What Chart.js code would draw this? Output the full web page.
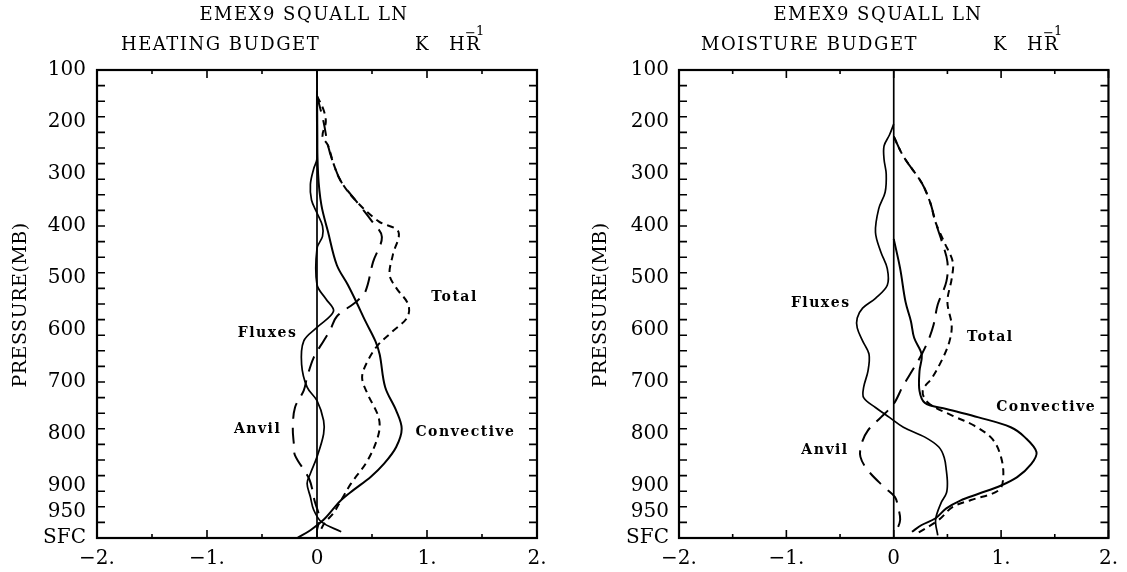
<!DOCTYPE html>
<html>
<head>
<meta charset="utf-8">
<title>EMEX9 squall line budgets</title>
<script src="https://cdn.jsdelivr.net/npm/chart.js"></script>
<style>
  html, body { margin: 0; padding: 0; background: #fff; }
  #wrap { position: relative; width: 1127px; height: 572px; }
  canvas { position: absolute; top: 0; }
  #heatChart { left: 0; }
  #moistChart { left: 563px; }
</style>
</head>
<body>
<div id="wrap">
  <canvas id="heatChart" width="563" height="572"></canvas>
  <canvas id="moistChart" width="564" height="572"></canvas>
</div>
<script>
// axis ticks shared by both panels (pressure in mb, rate in K/hr)
const pressureTicks = [100, 200, 300, 400, 500, 600, 700, 800, 900, 950, 1000];
const pressureLabels = ['100', '200', '300', '400', '500', '600', '700', '800', '900', '950', 'SFC'];
const rateTicks = [-2, -1, 0, 1, 2];
const rateLabels = ['\u22122.', '\u22121.', '0', '1.', '2.'];

// zero reference line
const zeroP = [100, 1000];
const zeroK = [0, 0];

// heating budget
const heatConvP = [140, 200, 300, 360, 411, 475, 513, 547, 583, 621, 647, 710, 755, 790, 825, 857, 882, 908, 927, 946, 965, 985, 1000];
const heatConvK = [0, 0, 0.01, 0.04, 0.10, 0.18, 0.28, 0.36, 0.44, 0.53, 0.57, 0.62, 0.72, 0.77, 0.72, 0.61, 0.49, 0.33, 0.22, 0.14, 0.06, -0.06, -0.18];
const heatFluxP = [100, 270, 290, 320, 350, 375, 400, 420, 443, 513, 540, 564, 595, 621, 666, 710, 736, 774, 800, 844, 876, 895, 921, 946, 969, 988];
const heatFluxK = [0, 0, -0.03, -0.06, -0.05, 0, 0.05, 0.05, 0, 0, 0.08, 0.15, 0, -0.12, -0.14, -0.09, 0, 0.06, 0.06, 0, -0.06, -0.09, -0.06, -0.03, 0.04, 0.22];
const heatTotalP = [150, 177, 200, 227, 245, 280, 315, 353, 391, 411, 455, 494, 519, 551, 576, 602, 630, 660, 691, 723, 768, 800, 851, 895, 927, 952, 971, 990];
const heatTotalK = [0, 0.06, 0.08, 0.05, 0.10, 0.15, 0.22, 0.36, 0.56, 0.74, 0.69, 0.66, 0.72, 0.83, 0.82, 0.69, 0.55, 0.46, 0.41, 0.46, 0.56, 0.56, 0.46, 0.31, 0.22, 0.15, 0.07, 0.02];
const heatAnvilP = [150, 200, 245, 280, 315, 353, 391, 421, 469, 526, 545, 574, 600, 621, 653, 691, 716, 749, 790, 820, 841, 887, 930, 960, 985];
const heatAnvilK = [0, 0.06, 0.10, 0.15, 0.22, 0.36, 0.50, 0.59, 0.51, 0.44, 0.36, 0.18, 0.12, 0.06, -0.03, -0.09, -0.12, -0.20, -0.22, -0.21, -0.20, -0.07, -0.02, 0.02, 0.0];

// moisture budget
const moistConvP = [425, 482, 546, 583, 615, 647, 679, 717, 740, 752, 768, 787, 806, 835, 858, 883, 899, 915, 928, 943, 962, 975, 988];
const moistConvK = [0, 0.06, 0.11, 0.16, 0.19, 0.26, 0.24, 0.24, 0.29, 0.49, 0.79, 1.09, 1.22, 1.33, 1.28, 1.15, 1.00, 0.79, 0.62, 0.49, 0.39, 0.26, 0.17];
const moistFluxP = [204, 225, 246, 272, 300, 335, 367, 412, 450, 482, 514, 539, 558, 577, 596, 621, 647, 679, 710, 730, 749, 768, 787, 806, 825, 845, 870, 895, 914, 933, 965, 995];
const moistFluxK = [0, -0.04, -0.09, -0.09, -0.07, -0.08, -0.14, -0.17, -0.12, -0.06, -0.06, -0.17, -0.29, -0.34, -0.34, -0.29, -0.23, -0.24, -0.28, -0.28, -0.17, -0.04, 0.09, 0.29, 0.42, 0.47, 0.49, 0.50, 0.49, 0.44, 0.39, 0.41];
const moistTotalP = [228, 266, 317, 355, 393, 431, 469, 501, 546, 591, 621, 653, 691, 717, 740, 765, 784, 810, 845, 883, 908, 927, 940, 965, 991];
const moistTotalK = [0, 0.09, 0.26, 0.34, 0.39, 0.47, 0.55, 0.54, 0.50, 0.54, 0.52, 0.46, 0.36, 0.27, 0.32, 0.55, 0.75, 0.92, 1.00, 1.02, 0.98, 0.72, 0.55, 0.42, 0.22];
const moistAnvilP = [228, 266, 317, 355, 393, 431, 469, 507, 551, 591, 621, 647, 679, 710, 742, 768, 793, 819, 844, 870, 902, 921, 940, 965, 984, 994];
const moistAnvilK = [0, 0.09, 0.26, 0.34, 0.39, 0.45, 0.50, 0.49, 0.41, 0.37, 0.32, 0.26, 0.17, 0.08, 0, -0.12, -0.24, -0.30, -0.31, -0.24, -0.09, 0.01, 0.04, 0.06, 0.03, 0];

const SERIF = 'DejaVu Serif';

function curve(p, k, dash, width, tension) {
  return {
    data: p.map((y, i) => ({ x: k[i], y: y })),
    showLine: true,
    borderColor: '#000',
    borderWidth: width,
    borderDash: dash,
    pointRadius: 0,
    tension: tension,
    fill: false
  };
}

// frame, inward ticks, headings and curve names
function decorations(cfg) {
  return {
    id: 'decorations',
    afterDraw(chart) {
      const ctx = chart.ctx;
      const a = chart.chartArea;
      const x = chart.scales.x;
      const y = chart.scales.y;
      ctx.save();
      ctx.strokeStyle = '#000';
      ctx.lineWidth = 2.2;
      ctx.strokeRect(a.left, a.top, a.right - a.left, a.bottom - a.top);

      ctx.lineWidth = 1.6;
      ctx.beginPath();
      for (let v = -2; v <= 2; v += 0.5) {
        const px = x.getPixelForValue(v);
        const len = Number.isInteger(v) ? 8 : 4;
        ctx.moveTo(px, a.bottom); ctx.lineTo(px, a.bottom - len);
        ctx.moveTo(px, a.top); ctx.lineTo(px, a.top + len);
      }
      for (let p = 130; p < 1000; p += 30) {
        const py = y.getPixelForValue(p);
        ctx.moveTo(a.left, py); ctx.lineTo(a.left + 8, py);
        ctx.moveTo(a.right, py); ctx.lineTo(a.right - 8, py);
      }
      ctx.stroke();

      ctx.fillStyle = '#000';
      ctx.textBaseline = 'middle';
      ctx.font = '18px "' + SERIF + '"';
      ctx.letterSpacing = '1.5px';
      ctx.textAlign = 'center';
      ctx.fillText('EMEX9 SQUALL LN', cfg.titleX, 15);
      ctx.textAlign = 'left';
      ctx.fillText(cfg.subtitle, cfg.subX, 45);
      ctx.fillText('K', cfg.unitX, 45);
      ctx.fillText('HR', cfg.unitX + 34, 45);
      ctx.font = '13px "' + SERIF + '"';
      ctx.letterSpacing = '0px';
      ctx.fillText('\u2212', cfg.unitX + 50, 34);
      ctx.fillText('1', cfg.unitX + 61, 32);

      ctx.save();
      ctx.translate(cfg.axisTitleX, 305);
      ctx.rotate(-Math.PI / 2);
      ctx.textAlign = 'center';
      ctx.font = '19px "' + SERIF + '"';
      ctx.letterSpacing = '0.5px';
      ctx.fillText('PRESSURE(MB)', 0, 0);
      ctx.restore();

      ctx.font = 'bold 14px "' + SERIF + '"';
      ctx.letterSpacing = '1.5px';
      ctx.textAlign = 'center';
      cfg.names.forEach(n => {
        ctx.fillText(n.text, x.getPixelForValue(n.k), y.getPixelForValue(n.p));
      });
      ctx.restore();
    }
  };
}

function budgetChart(id, cfg) {
  new Chart(document.getElementById(id), {
    type: 'scatter',
    data: {
      datasets: [
        curve(zeroP, zeroK, [], 1.7, 0),
        curve(cfg.conv[0], cfg.conv[1], [], 2, 0.35),
        curve(cfg.flux[0], cfg.flux[1], [], 1.7, 0.35),
        curve(cfg.total[0], cfg.total[1], [7, 5], 2, 0.35),
        curve(cfg.anvil[0], cfg.anvil[1], [16, 9], 2, 0.35)
      ]
    },
    options: {
      responsive: false,
      animation: false,
      layout: { padding: { top: 70, right: cfg.padRight, left: 0, bottom: 0 } },
      plugins: { legend: { display: false }, tooltip: { enabled: false } },
      scales: {
        x: {
          type: 'linear', min: -2, max: 2,
          afterBuildTicks: s => { s.ticks = rateTicks.map(v => ({ value: v })); },
          afterFit: s => { s.height = 34; },
          grid: { display: false, drawTicks: false },
          border: { display: false },
          ticks: {
            color: '#000', padding: 9, maxRotation: 0, autoSkip: false,
            font: { family: SERIF, size: 20 },
            callback: (v, i) => rateLabels[i]
          }
        },
        y: {
          type: 'linear', min: 100, max: 1000, reverse: true,
          afterBuildTicks: s => { s.ticks = pressureTicks.map(v => ({ value: v })); },
          afterFit: s => { s.width = cfg.axisWidth; },
          grid: { display: false, drawTicks: false },
          border: { display: false },
          ticks: {
            color: '#000', padding: cfg.labelPad, autoSkip: false,
            font: { family: SERIF, size: 20 },
            callback: (v, i) => pressureLabels[i]
          }
        }
      }
    },
    plugins: [decorations(cfg)]
  });
}

budgetChart('heatChart', {
  conv: [heatConvP, heatConvK],
  flux: [heatFluxP, heatFluxK],
  total: [heatTotalP, heatTotalK],
  anvil: [heatAnvilP, heatAnvilK],
  axisWidth: 97, labelPad: 11, padRight: 26,
  titleX: 304, subtitle: 'HEATING BUDGET', subX: 121, unitX: 415, axisTitleX: 21,
  names: [
    { text: 'Total', k: 1.25, p: 537 },
    { text: 'Fluxes', k: -0.45, p: 606 },
    { text: 'Anvil', k: -0.54, p: 792 },
    { text: 'Convective', k: 1.35, p: 796 }
  ]
});

budgetChart('moistChart', {
  conv: [moistConvP, moistConvK],
  flux: [moistFluxP, moistFluxK],
  total: [moistTotalP, moistTotalK],
  anvil: [moistAnvilP, moistAnvilK],
  axisWidth: 116, labelPad: 10, padRight: 11,
  titleX: 315, subtitle: 'MOISTURE BUDGET', subX: 138, unitX: 430, axisTitleX: 38,
  names: [
    { text: 'Fluxes', k: -0.68, p: 548 },
    { text: 'Total', k: 0.90, p: 615 },
    { text: 'Convective', k: 1.42, p: 748 },
    { text: 'Anvil', k: -0.64, p: 831 }
  ]
});
</script>
</body>
</html>
